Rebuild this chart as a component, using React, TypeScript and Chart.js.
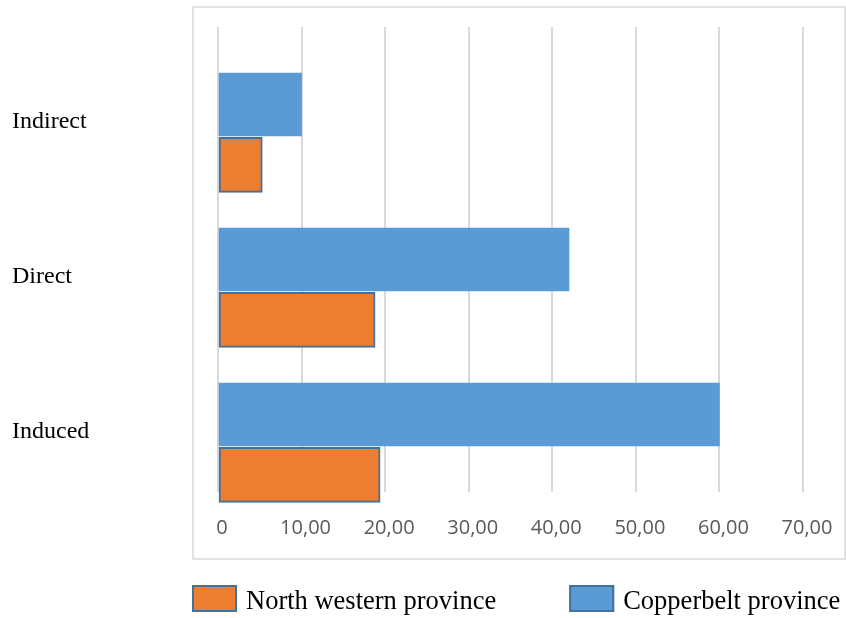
import React, { useEffect, useRef } from 'react';
import { Chart, registerables } from 'chart.js';

Chart.register(...registerables);

const categories = ['Indirect', 'Direct', 'Induced'];
const copperbeltValues = [10, 42, 60];
const northWesternValues = [5.3, 18.8, 19.4];
const seriesNames = ['North western province', 'Copperbelt province'];
const xTickLabels = ['0', '10,00', '20,00', '30,00', '40,00', '50,00', '60,00', '70,00'];

// orange bars sit below the blue bar of each category (shift in category units)
const orangeShift = 0.39;

const framePlugin = {
  id: 'frame',
  beforeDraw(chart: any) {
    const { ctx, chartArea } = chart;
    ctx.save();
    ctx.strokeStyle = '#d9d9d9';
    ctx.lineWidth = 1.5;
    ctx.strokeRect(
      chartArea.left - 25,
      chartArea.top - 20,
      chartArea.right - chartArea.left + 67,
      chartArea.bottom - chartArea.top + 87
    );
    ctx.restore();
  },
};

const legendPlugin = {
  id: 'customLegend',
  afterDraw(chart: any) {
    const { ctx, chartArea } = chart;
    const y = chartArea.bottom + 93;
    let x = chartArea.left - 26;
    ctx.save();
    ctx.font = '26.5px "Liberation Serif", "Times New Roman", serif';
    ctx.textBaseline = 'alphabetic';
    ctx.textAlign = 'left';
    chart.data.datasets.forEach((ds: any) => {
      ctx.fillStyle = ds.backgroundColor;
      ctx.fillRect(x, y, 45, 27);
      ctx.strokeStyle = '#41719c';
      ctx.lineWidth = 2;
      ctx.strokeRect(x + 1, y + 1, 43, 25);
      const tx = x + 54;
      ctx.fillStyle = '#000000';
      ctx.fillText(ds.label, tx, y + 24);
      x = tx + ctx.measureText(ds.label).width + 73;
    });
    ctx.restore();
  },
};

export default function App() {
  const canvasRef = useRef<HTMLCanvasElement | null>(null);

  useEffect(() => {
    if (!canvasRef.current) return;
    const chart = new Chart(canvasRef.current, {
      type: 'bar',
      data: {
        labels: categories,
        datasets: [
          {
            label: seriesNames[0],
            data: northWesternValues.map((v, i) => ({ x: v, y: i })),
            indexAxis: 'y',
            yAxisID: 'y2',
            xAxisID: 'x',
            grouped: false,
            backgroundColor: '#ed7d31',
            borderColor: '#41719c',
            borderWidth: 2,
            borderSkipped: false,
            barThickness: 55,
            clip: false,
          } as any,
          {
            label: seriesNames[1],
            data: copperbeltValues,
            indexAxis: 'y',
            yAxisID: 'y',
            xAxisID: 'x',
            grouped: false,
            backgroundColor: '#5b9bd5',
            borderWidth: 0,
            barThickness: 63,
          } as any,
        ],
      },
      options: {
        indexAxis: 'y',
        responsive: false,
        animation: false,
        layout: { padding: { left: 12, right: 43, top: 27, bottom: 54 } },
        plugins: {
          legend: { display: false },
          tooltip: { enabled: false },
        },
        scales: {
          x: {
            type: 'linear',
            position: 'bottom',
            min: 0,
            max: 70,
            ticks: {
              stepSize: 10,
              padding: 24,
              labelOffset: 4,
              color: '#595959',
              font: { family: '"Open Sans", sans-serif', size: 20 },
              callback: (_v: any, i: number) => xTickLabels[i],
            },
            grid: { color: '#d9d9d9', lineWidth: 2, drawTicks: false },
            border: { display: false },
            afterFit: (s: any) => {
              s.paddingLeft = 0;
              s.paddingRight = 0;
            },
          },
          y: {
            type: 'category',
            position: 'left',
            offset: true,
            grid: { display: false },
            border: { display: false },
            ticks: {
              crossAlign: 'far',
              labelOffset: 17,
              padding: 0,
              color: '#000000',
              font: { family: '"Liberation Serif", "Times New Roman", serif', size: 24 },
            },
            afterFit: (s: any) => {
              s.width = 206;
              s.paddingTop = 0;
              s.paddingBottom = 0;
            },
          },
          y2: {
            type: 'linear',
            position: 'left',
            display: false,
            reverse: true,
            offset: false,
            bounds: 'data',
            grid: { offset: false },
            min: -0.5 - orangeShift,
            max: categories.length - 0.5 - orangeShift,
          },
        } as any,
      },
      plugins: [framePlugin, legendPlugin],
    });
    return () => chart.destroy();
  }, []);

  return (
    <div style={{ position: 'absolute', left: 0, top: 0, width: 846, height: 618, background: '#ffffff' }}>
      <canvas ref={canvasRef} width={846} height={618} />
    </div>
  );
}
